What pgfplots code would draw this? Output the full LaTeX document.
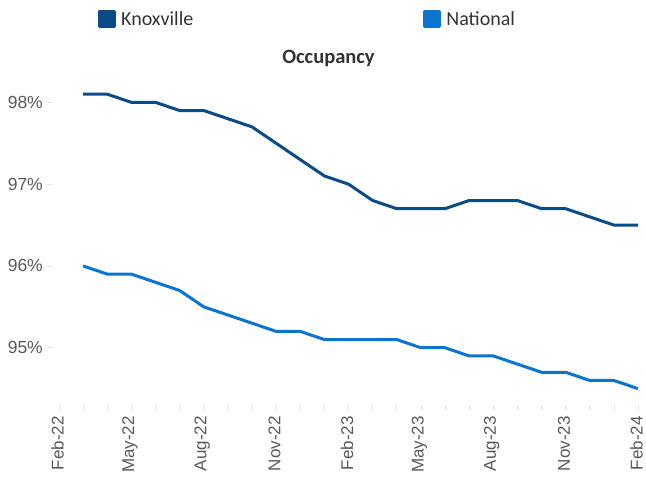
\documentclass[border=0pt]{standalone}
\usepackage{pgfplots}
\pgfplotsset{compat=1.18}
\usepackage{fontspec}
\setmainfont{Carlito}
\newfontfamily\arialf{Liberation Sans}
\definecolor{knox}{HTML}{0B4C86}
\definecolor{natl}{HTML}{0A74CF}
\definecolor{tickgray}{HTML}{595959}
\definecolor{txtgray}{HTML}{333333}
\begin{document}
\begin{tikzpicture}[x=1pt,y=1pt]
\path[use as bounding box] (0,0) rectangle (646,480);
\begin{axis}[
  at={(52pt,75pt)}, anchor=south west,
  scale only axis, width=586pt, height=319pt,
  xmin=-0.29, xmax=24, ymin=94.3, ymax=98.2,
  axis line style={draw=none},
  xtick={0,3,...,24},
  xticklabels={Feb-22,May-22,Aug-22,Nov-22,Feb-23,May-23,Aug-23,Nov-23,Feb-24},
  minor xtick={0,...,24},
  ytick={95,96,97,98},
  yticklabels={95\%,96\%,97\%,98\%},
  tick style={draw=gray!22, line width=0.6pt},
  major tick length=5pt, minor tick length=5pt,
  tick align=outside,
  xtick pos=bottom, ytick pos=left,
  xticklabel shift=6pt,
  x tick label style={xshift=-1.5pt, rotate=90, anchor=east, inner sep=0pt, font=\arialf\fontsize{17}{18}\selectfont, text=tickgray},
  y tick label style={anchor=east, inner sep=0pt, font=\arialf\fontsize{17.5}{18}\selectfont, text=tickgray},
  yticklabel shift=4pt,
  title={Occupancy},
  title style={at={(0.4718,1.069)}, anchor=center, font=\bfseries\fontsize{20.5}{22}\selectfont, text=txtgray},
  legend columns=2,
  legend style={at={(0.0785,1.2414)}, anchor=north west, draw=none, fill=none, inner sep=0pt,
    font=\fontsize{20}{22}\selectfont, text=txtgray,
    /tikz/every odd column/.append style={column sep=3pt},
    /tikz/every even column/.append style={column sep=228pt}},
  legend image code/.code={\fill[#1] (0pt,-7.5pt) rectangle (15pt,7.5pt);},
]
\addplot[knox, line width=3pt, line join=round] coordinates {
(1,98.1)(2,98.1)(3,98.0)(4,98.0)(5,97.9)(6,97.9)(7,97.8)(8,97.7)(9,97.5)(10,97.3)(11,97.1)(12,97.0)
(13,96.8)(14,96.7)(15,96.7)(16,96.7)(17,96.8)(18,96.8)(19,96.8)(20,96.7)(21,96.7)(22,96.6)(23,96.5)(24,96.5)};
\addlegendentry{Knoxville}
\addplot[natl, line width=3pt, line join=round] coordinates {
(1,96.0)(2,95.9)(3,95.9)(4,95.8)(5,95.7)(6,95.5)(7,95.4)(8,95.3)(9,95.2)(10,95.2)(11,95.1)(12,95.1)
(13,95.1)(14,95.1)(15,95.0)(16,95.0)(17,94.9)(18,94.9)(19,94.8)(20,94.7)(21,94.7)(22,94.6)(23,94.6)(24,94.5)};
\addlegendentry{National}
\end{axis}
\end{tikzpicture}
\end{document}
